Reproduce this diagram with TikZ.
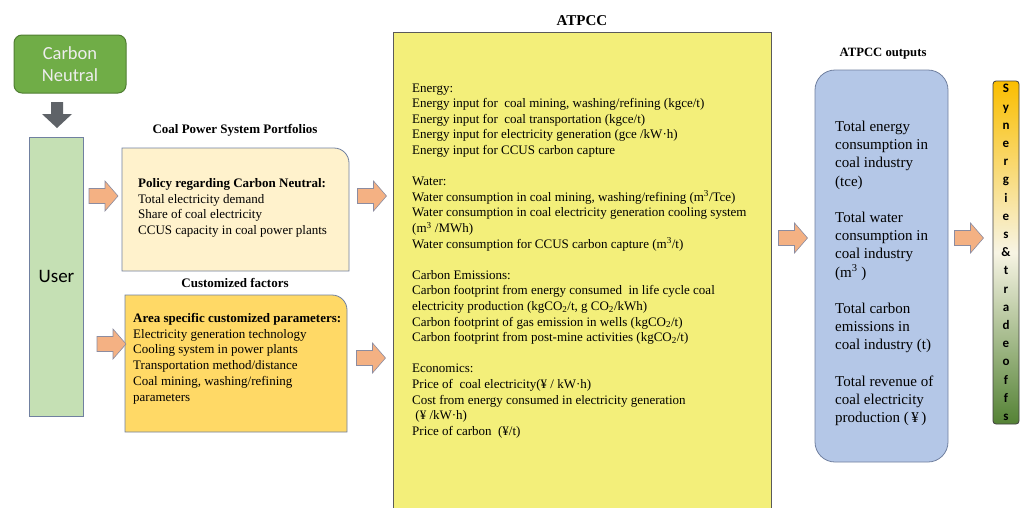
\documentclass[tikz,border=0pt]{standalone}
\usepackage{fontspec}
\setmainfont{Liberation Serif}
\newfontfamily\carlito{Carlito}
\usetikzlibrary{calc}
\definecolor{cngreen}{RGB}{112,173,71}
\definecolor{cnborder}{RGB}{80,126,50}
\definecolor{usergreen}{RGB}{197,224,180}
\definecolor{boxborder}{RGB}{112,128,160}
\definecolor{policyfill}{RGB}{255,242,204}
\definecolor{areafill}{RGB}{255,217,102}
\definecolor{atpccfill}{RGB}{243,239,122}
\definecolor{atpccborder}{RGB}{90,90,90}
\definecolor{outfill}{RGB}{180,199,231}
\definecolor{arrowfill}{RGB}{244,177,131}
\definecolor{arrowborder}{RGB}{140,140,160}
\definecolor{downgray}{RGB}{95,99,104}
\definecolor{syntop}{RGB}{250,190,0}
\definecolor{synmid}{RGB}{247,244,228}
\definecolor{synbot}{RGB}{84,130,53}
\tikzset{
  body/.style={font=\fontsize{13}{15.6}\selectfont, align=left, inner sep=0pt, anchor=base west},
  outtext/.style={font=\fontsize{15}{18.2}\selectfont, align=left, inner sep=0pt, anchor=base west},
  heading/.style={font=\bfseries\fontsize{13}{15}\selectfont, inner sep=0pt},
  frame/.style={inner sep=0pt, outer sep=0pt},
  softbox/.style={draw=boxborder, line width=0.8pt},
  orangearrow/.pic={\draw[draw=arrowborder, fill=arrowfill, line width=0.6pt] (-14.5,-7.5) -- (1.5,-7.5) -- (1.5,-15) -- (14.5,0) -- (1.5,15) -- (1.5,7.5) -- (-14.5,7.5) -- cycle;},
}
\begin{document}
\begin{tikzpicture}[x=1pt,y=-1pt]
\useasboundingbox[fill=white] (0,0) rectangle (1024,507);

% Carbon Neutral
\node[frame, draw=cnborder, fill=cngreen, line width=1pt, rounded corners=8pt, minimum width=112pt, minimum height=58pt, text=white!93!black, align=center, font=\carlito\fontsize{18.5}{22}\selectfont] (cn) at (70,64) {Carbon\\Neutral};
\coordinate (down) at (57,115);
\fill[downgray] ($(down)+(-6,-13)$) -- ($(down)+(6,-13)$) -- ($(down)+(6,-1)$) -- ($(down)+(15,-1)$) -- ($(down)+(0,13)$) -- ($(down)+(-15,-1)$) -- ($(down)+(-6,-1)$) -- cycle;

% User
\node[frame, softbox, fill=usergreen, minimum width=54pt, minimum height=279pt, font=\carlito\fontsize{19}{22}\selectfont] (user) at (56.5,276.5) {User};

% Policy box
\node[frame, minimum width=227pt, minimum height=123pt] (policy) at (235.5,209.5) {};
\draw[softbox, fill=policyfill] (policy.south west) -- (policy.north west) -- ($(policy.north east)+(-15,0)$) .. controls ($(policy.north east)+(-6.7,0)$) and ($(policy.north east)+(0,6.7)$) .. ($(policy.north east)+(0,15)$) -- (policy.south east) -- cycle;
\node[heading] (ptitle) at (235,130) {Coal Power System Portfolios};
\node[body] (ptext) at (138,234.4) {\textbf{Policy regarding Carbon Neutral:}\\Total electricity demand\\Share of coal electricity\\CCUS capacity in coal power plants};

% Area box
\node[frame, minimum width=222pt, minimum height=137pt] (area) at (236,363.5) {};
\draw[softbox, fill=areafill] (area.south west) -- (area.north west) -- ($(area.north east)+(-15,0)$) .. controls ($(area.north east)+(-6.7,0)$) and ($(area.north east)+(0,6.7)$) .. ($(area.north east)+(0,15)$) -- (area.south east) -- cycle;
\node[heading] (atitle) at (235,283) {Customized factors};
\node[body, font=\fontsize{13}{15.7}\selectfont] (atext) at (133,401) {\textbf{Area specific customized parameters:}\\Electricity generation technology\\Cooling system in power plants\\Transportation method/distance\\Coal mining, washing/refining\\parameters};

% ATPCC
\node[frame, draw=atpccborder, line width=0.9pt, fill=atpccfill, minimum width=378pt, minimum height=488pt] (atpcc) at (582,276) {};
\node[heading, font=\bfseries\fontsize{15}{17}\selectfont] (ttitle) at (582,21) {ATPCC};
\node[body] (ttext) at (412,435.2) {Energy:\\
Energy input for~ coal mining, washing/refining (kgce/t)\\
Energy input for~ coal transportation (kgce/t)\\
Energy input for electricity generation (gce /kW·h)\\
Energy input for CCUS carbon capture\\[15.6pt]
Water:\\
Water consumption in coal mining, washing/refining (m\textsuperscript{3}/Tce)\\
Water consumption in coal electricity generation cooling system\\
(m\textsuperscript{3} /MWh)\\
Water consumption for CCUS carbon capture (m\textsuperscript{3}/t)\\[15.6pt]
Carbon Emissions:\\
Carbon footprint from energy consumed~ in life cycle coal\\
electricity production (kgCO\textsubscript{2}/t, g CO\textsubscript{2}/kWh)\\
Carbon footprint of gas emission in wells (kgCO\textsubscript{2}/t)\\
Carbon footprint from post-mine activities (kgCO\textsubscript{2}/t)\\[15.6pt]
Economics:\\
Price of~ coal electricity(¥ / kW·h)\\
Cost from energy consumed in electricity generation\\
~(¥ /kW·h)\\
Price of carbon~ (¥/t)};

% Outputs
\node[frame, softbox, fill=outfill, rounded corners=20pt, minimum width=133pt, minimum height=392pt] (out) at (881.5,266) {};
\node[heading, font=\bfseries\fontsize{12.7}{15}\selectfont] (otitle) at (883,54) {ATPCC outputs};
\node[outtext] (otext) at (835,422.7) {Total energy\\consumption in\\coal industry\\(tce)\\[18.2pt]Total water\\consumption in\\coal industry\\(m\textsuperscript{3} )\\[18.2pt]Total carbon\\emissions in\\coal industry (t)\\[18.2pt]Total revenue of\\coal electricity\\production (\,¥\,)};

% Synergies bar
\node[frame, draw=black!75, line width=0.8pt, rounded corners=3pt, top color=syntop, bottom color=synbot, middle color=synmid, minimum width=26pt, minimum height=343pt] (syn) at (1006,252.5) {};
\node[inner sep=0pt, align=center, font=\carlito\bfseries\fontsize{13}{18.2}\selectfont] (syntext) at (syn.center) {S\\y\\n\\e\\r\\g\\i\\e\\s\\\&\\t\\r\\a\\d\\e\\o\\f\\f\\s};

% Block arrows
\pic at (103.5,196) {orangearrow};
\pic at (111.5,344) {orangearrow};
\pic at (372,196) {orangearrow};
\pic at (371,358) {orangearrow};
\pic at (793,238) {orangearrow};
\pic at (969,238) {orangearrow};
\end{tikzpicture}
\end{document}
